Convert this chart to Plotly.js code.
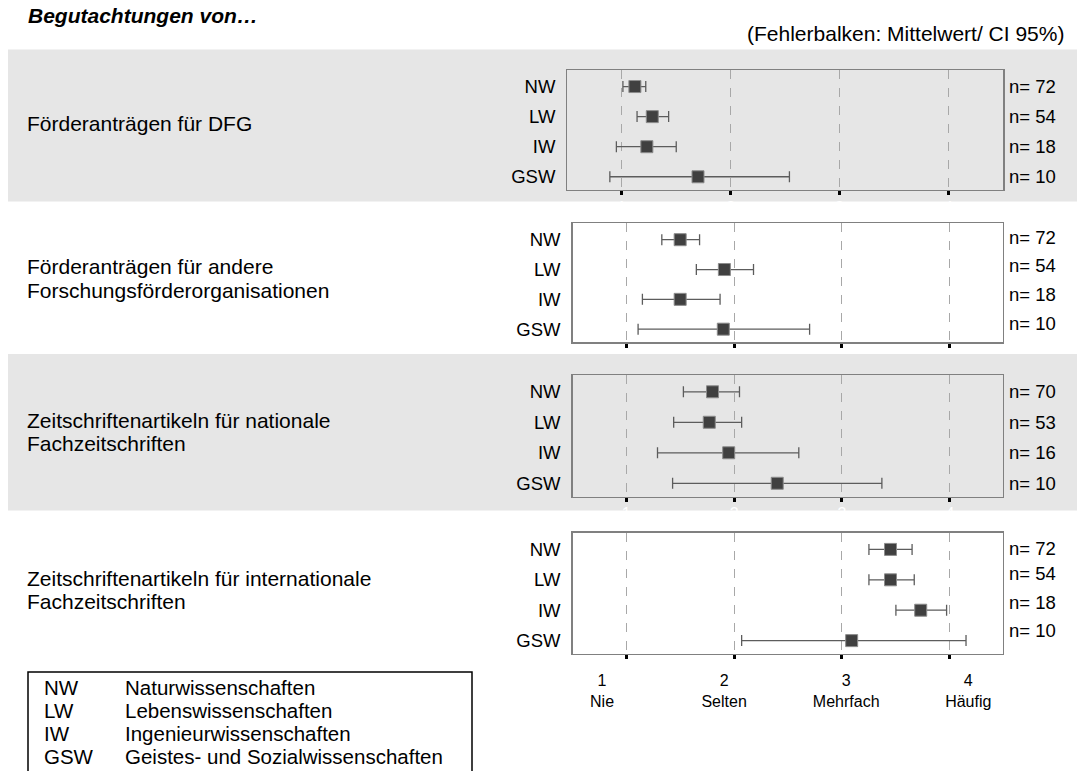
<!DOCTYPE html>
<html>
<head>
<meta charset="utf-8">
<script src="https://cdn.plot.ly/plotly-3.0.1.min.js"></script>
<style>
html,body{margin:0;padding:0;background:#fff;}
#chart{width:1077px;height:771px;}
</style>
</head>
<body>
<div id="chart"></div>
<script>
// ---------- data ----------
const categories = ['NW', 'LW', 'IW', 'GSW'];
const fullNames = ['Naturwissenschaften', 'Lebenswissenschaften', 'Ingenieurwissenschaften', 'Geistes- und Sozialwissenschaften'];
const scaleValues = [1, 2, 3, 4];
const scaleLabels = ['Nie', 'Selten', 'Mehrfach', 'Häufig'];

const titleMain = 'Begutachtungen von…';
const titleNote = '(Fehlerbalken: Mittelwert/ CI 95%)';

const labelDFG = ['Förderanträgen für DFG'];
const meanDFG = [1.12, 1.28, 1.23, 1.70];
const lowDFG  = [1.01, 1.14, 0.95, 0.89];
const highDFG = [1.22, 1.43, 1.50, 2.54];
const nDFG    = [72, 54, 18, 10];

const labelOther = ['Förderanträgen für andere', 'Forschungsförderorganisationen'];
const meanOther = [1.50, 1.91, 1.50, 1.90];
const lowOther  = [1.33, 1.65, 1.15, 1.11];
const highOther = [1.68, 2.18, 1.87, 2.70];
const nOther    = [72, 54, 18, 10];

const labelNat = ['Zeitschriftenartikeln für nationale', 'Fachzeitschriften'];
const meanNat = [1.80, 1.77, 1.95, 2.40];
const lowNat  = [1.53, 1.44, 1.29, 1.43];
const highNat = [2.05, 2.07, 2.60, 3.37];
const nNat    = [70, 53, 16, 10];

const labelInt = ['Zeitschriftenartikeln für internationale', 'Fachzeitschriften'];
const meanInt = [3.45, 3.45, 3.73, 3.09];
const lowInt  = [3.25, 3.25, 3.50, 2.07];
const highInt = [3.65, 3.67, 3.97, 4.15];
const nInt    = [72, 54, 18, 10];

const panels = [
  {label: labelDFG, mean: meanDFG, low: lowDFG, high: highDFG, n: nDFG},
  {label: labelOther, mean: meanOther, low: lowOther, high: highOther, n: nOther},
  {label: labelNat, mean: meanNat, low: lowNat, high: highNat, n: nNat},
  {label: labelInt, mean: meanInt, low: lowInt, high: highInt, n: nInt}
];

// ---------- layout geometry (pixels) ----------
const W = 1077, H = 771;
const px = v => v / W;
const py = v => 1 - v / H;
const FONT = 'Liberation Sans, Arial, sans-serif';

const geom = [
  {x0: 567.4, x1: 1003.3, y0: 70,    y1: 190,   range: [0.5, 4.505],  labelY: [124],      nShift: [0, 0, 0, 0],  white: true},
  {x0: 572.5, x1: 1002.8, y0: 223.3, y1: 342.3, range: [0.502, 4.491], labelY: [266, 290], nShift: [2, 4, 5, 6],  white: false},
  {x0: 572.5, x1: 1002.8, y0: 375,   y1: 496.7, range: [0.502, 4.491], labelY: [421, 444], nShift: [0, 0, 0, 0],  white: true},
  {x0: 572.5, x1: 1002.8, y0: 532.7, y1: 654,   range: [0.502, 4.491], labelY: [578, 601], nShift: [1, 6, 8, 10], white: false}
];

const rowIdx = categories.map((c, i) => i);
const traces = [];
const annotations = [];
const layout = {
  width: W, height: H,
  margin: {l: 0, r: 0, t: 0, b: 0, pad: 0},
  paper_bgcolor: '#ffffff',
  plot_bgcolor: 'rgba(0,0,0,0)',
  showlegend: false,
  font: {family: FONT, color: '#000'},
  shapes: [
    {type: 'rect', xref: 'paper', yref: 'paper', x0: px(8), x1: 1, y0: py(201.5), y1: py(49.5),
     fillcolor: '#e6e6e6', line: {width: 0}, layer: 'below'},
    {type: 'rect', xref: 'paper', yref: 'paper', x0: px(8), x1: 1, y0: py(510.5), y1: py(354),
     fillcolor: '#e6e6e6', line: {width: 0}, layer: 'below'},
    {type: 'rect', xref: 'paper', yref: 'paper', x0: px(28), x1: px(472), y0: py(800), y1: py(672),
     fillcolor: 'rgba(0,0,0,0)', line: {color: '#000', width: 1.5}, layer: 'above'}
  ],
  annotations: annotations
};

panels.forEach((p, k) => {
  const g = geom[k];
  const sfx = k === 0 ? '' : String(k + 1);
  const xName = 'xaxis' + sfx, yName = 'yaxis' + sfx;
  layout[xName] = {
    domain: [px(g.x0), px(g.x1)], range: g.range, anchor: 'y' + sfx,
    tickvals: scaleValues, ticktext: scaleValues.map(String),
    showgrid: true, gridcolor: '#a8a8a8', griddash: 'dash', gridwidth: 1,
    zeroline: false, showline: true, mirror: true, linecolor: '#808080', linewidth: 1.3,
    ticks: 'outside', ticklen: 4, tickwidth: 3, tickcolor: '#000',
    showticklabels: g.white, tickfont: {size: 16, color: '#ffffff', family: FONT}, ticklabelstandoff: -2,
    fixedrange: true
  };
  layout[yName] = {
    domain: [py(g.y1), py(g.y0)], range: [3.44, -0.55], anchor: 'x' + sfx,
    tickvals: rowIdx, ticktext: categories,
    showgrid: false, zeroline: false, showline: true, mirror: true, linecolor: '#808080', linewidth: 1.3,
    ticks: '', tickfont: {size: 18.5, color: '#000', family: FONT}, ticklabelstandoff: 7,
    fixedrange: true
  };
  traces.push({
    type: 'scatter', mode: 'markers',
    x: p.mean, y: rowIdx,
    xaxis: 'x' + sfx, yaxis: 'y' + sfx,
    error_x: {
      type: 'data', symmetric: false,
      array: p.mean.map((m, i) => p.high[i] - m),
      arrayminus: p.mean.map((m, i) => m - p.low[i]),
      color: '#5c5c5c', thickness: 1.3, width: 5.5
    },
    marker: {symbol: 'square', size: 12, color: '#404040', line: {color: '#8c8c8c', width: 1}},
    cliponaxis: false, hoverinfo: 'skip'
  });
  // n= labels
  p.n.forEach((n, i) => {
    annotations.push({
      xref: 'x' + sfx + ' domain', yref: 'y' + sfx, x: 1, y: i, xshift: 4, yshift: g.nShift[i],
      xanchor: 'left', yanchor: 'middle', showarrow: false,
      text: 'n= ' + n, font: {size: 18.5, color: '#000', family: FONT}
    });
  });
  // row group labels
  p.label.forEach((line, j) => {
    annotations.push({
      xref: 'paper', yref: 'paper', x: px(25), y: py(g.labelY[j]),
      xanchor: 'left', yanchor: 'middle', showarrow: false,
      text: line, font: {size: 21, color: '#000', family: FONT}
    });
  });
});

// bottom scale labels (own axis overlaying the last panel)
layout.xaxis5 = {
  domain: [px(geom[3].x0), px(geom[3].x1)], anchor: 'y4', overlaying: 'x4',
  range: [0.758, 4.283],
  tickvals: scaleValues, ticktext: scaleValues.map((v, i) => v + '<br>' + scaleLabels[i]),
  showgrid: false, zeroline: false, showline: false, ticks: '',
  tickfont: {size: 16, color: '#000', family: FONT}, ticklabelstandoff: 15,
  fixedrange: true
};
traces.push({
  type: 'scatter', mode: 'markers', x: scaleValues, y: scaleValues.map(() => 0),
  xaxis: 'x5', yaxis: 'y4', marker: {opacity: 0, size: 1}, hoverinfo: 'skip', showlegend: false
});

// titles
annotations.push({
  xref: 'paper', yref: 'paper', x: px(26), y: py(15), xanchor: 'left', yanchor: 'middle', showarrow: false,
  text: '<b><i>' + titleMain + '</i></b>', font: {size: 21, color: '#000', family: FONT}
});
annotations.push({
  xref: 'paper', yref: 'paper', x: px(1066), y: py(34), xanchor: 'right', yanchor: 'middle', showarrow: false,
  text: titleNote, font: {size: 21, color: '#000', family: FONT}
});

// abbreviation legend
const legendRows = [687, 710, 733, 756];
categories.forEach((c, i) => {
  annotations.push({
    xref: 'paper', yref: 'paper', x: px(42), y: py(legendRows[i]), xanchor: 'left', yanchor: 'middle', showarrow: false,
    text: c, font: {size: 20.5, color: '#000', family: FONT}
  });
  annotations.push({
    xref: 'paper', yref: 'paper', x: px(123), y: py(legendRows[i]), xanchor: 'left', yanchor: 'middle', showarrow: false,
    text: fullNames[i], font: {size: 20.5, color: '#000', family: FONT}
  });
});

Plotly.newPlot('chart', traces, layout, {displayModeBar: false, staticPlot: true});
</script>
</body>
</html>
